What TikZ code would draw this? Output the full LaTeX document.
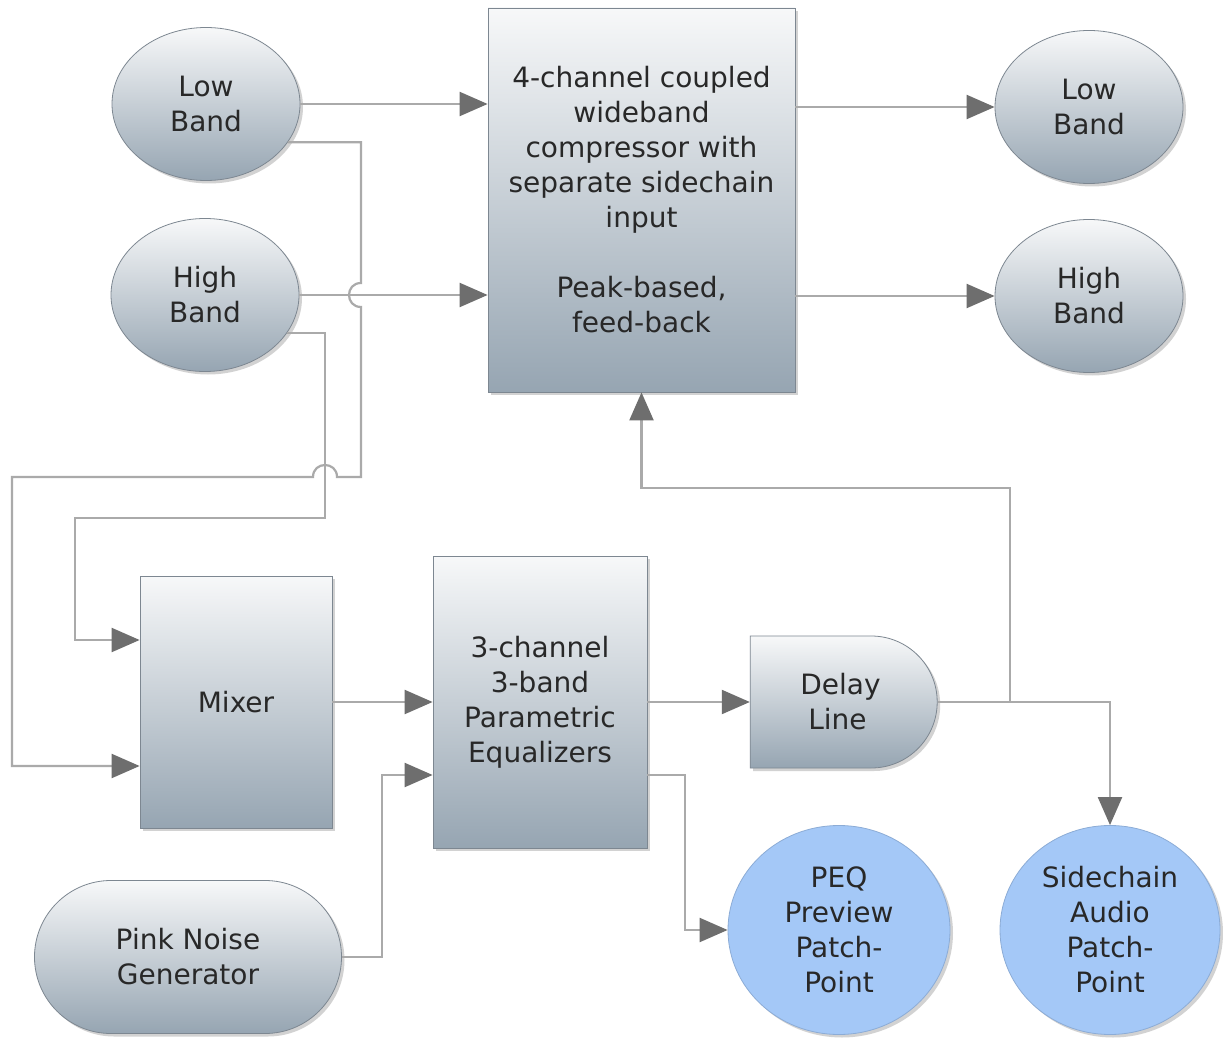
\documentclass[tikz,border=0pt]{standalone}
\usepackage{fontspec}
\setmainfont{DejaVu Sans}
\usetikzlibrary{shapes.geometric,shapes.misc,shadows,arrows.meta,calc}
\definecolor{topc}{RGB}{247,248,249}
\definecolor{botc}{RGB}{150,165,178}
\definecolor{edgec}{RGB}{125,135,145}
\definecolor{linec}{RGB}{170,170,170}
\definecolor{tipc}{RGB}{110,110,110}
\definecolor{bluef}{RGB}{164,200,247}
\definecolor{blueb}{RGB}{140,172,214}
\definecolor{txtc}{RGB}{40,40,40}
\begin{document}
\begin{tikzpicture}[x=1pt,y=-1pt,
  base/.style={draw=edgec, line width=0.8pt, text=txtc, align=center,
    font=\fontsize{28}{35}\selectfont, inner sep=0pt,
    drop shadow={shadow xshift=3pt,shadow yshift=-3pt,opacity=0.35}},
  grad/.style={base, top color=topc, bottom color=botc},
  box/.style={grad, rectangle},
  oval/.style={grad, ellipse, minimum width=188pt, minimum height=153pt},
  pill/.style={grad, rounded rectangle},
  patch/.style={base, ellipse, fill=bluef, draw=blueb},
  conn/.style={draw=linec, line width=2.2pt},
  arr/.style={conn, -{Triangle[length=28pt,width=24pt,color=tipc]}}
]
\fill[white] (0,0) rectangle (1223,1040);
\useasboundingbox (0,0) rectangle (1223,1040);

% nodes
\node[box, minimum width=307pt, minimum height=384pt] (comp) at (641.5,200)
  {4-channel coupled\\wideband\\compressor with\\separate sidechain\\input\\[35pt]Peak-based,\\feed-back};
\node[oval] (lowL) at (206,104) {Low\\Band};
\node[oval] (highL) at (205,295) {High\\Band};
\node[oval] (lowR) at (1089,107) {Low\\Band};
\node[oval] (highR) at (1089,296) {High\\Band};
\node[box, minimum width=192pt, minimum height=252pt] (mixer) at (236,702) {Mixer};
\node[box, minimum width=214pt, minimum height=292pt] (peq) at (540,702)
  {3-channel\\3-band\\Parametric\\Equalizers};
\node[pill, rounded rectangle left arc=none, minimum width=187pt, minimum height=132pt] (delay) at (840.5,702) {Delay\\Line\hspace*{6pt}};
\node[pill, minimum width=307pt, minimum height=153pt] (pink) at (188,957) {Pink Noise\\Generator};
\node[patch, minimum width=222pt, minimum height=209pt] (prev) at (839,930) {PEQ\\Preview\\Patch-\\Point};
\node[patch, minimum width=220pt, minimum height=209pt] (side) at (1110,930) {Sidechain\\Audio\\Patch-\\Point};

% helper coordinates
\coordinate (mixIn1) at ($(mixer.west)+(0,-62)$);
\coordinate (mixIn2) at ($(mixer.west)+(0,64)$);
\coordinate (peqIn2) at ($(peq.west)+(0,73)$);
\coordinate (peqOut2) at ($(peq.east)+(0,73)$);

% connectors
\draw[arr] (lowL.east) -- (comp.west |- lowL.east);
\draw[arr] (highL.east) -- (comp.west |- highL.east);
\draw[arr] (comp.east |- lowR.west) -- (lowR.west);
\draw[arr] (comp.east |- highR.west) -- (highR.west);
\draw[arr] (lowL.-25) -| (361,283) .. controls (345,283) and (345,307) .. (361,307)
  -- (361,477) -- (337,477) .. controls (337,461) and (313,461) .. (313,477)
  -- (12,477) -- (12,766) -- (mixIn2);
\draw[arr] (highL.-25) -| (325,518) -| (75,640) -- (mixIn1);
\draw[arr] (mixer.east) -- (peq.west |- mixer.east);
\draw[arr] (pink.east) -| (382,775) -- (peqIn2);
\draw[arr] (peq.east) -- (delay.west);
\draw[arr] (peqOut2) -| (685,930) -- (prev.west);
\draw[arr] (delay.east) -| (1010,488) -| (comp.south);
\draw[arr] (delay.east) -| (side.north);
\end{tikzpicture}
\end{document}
